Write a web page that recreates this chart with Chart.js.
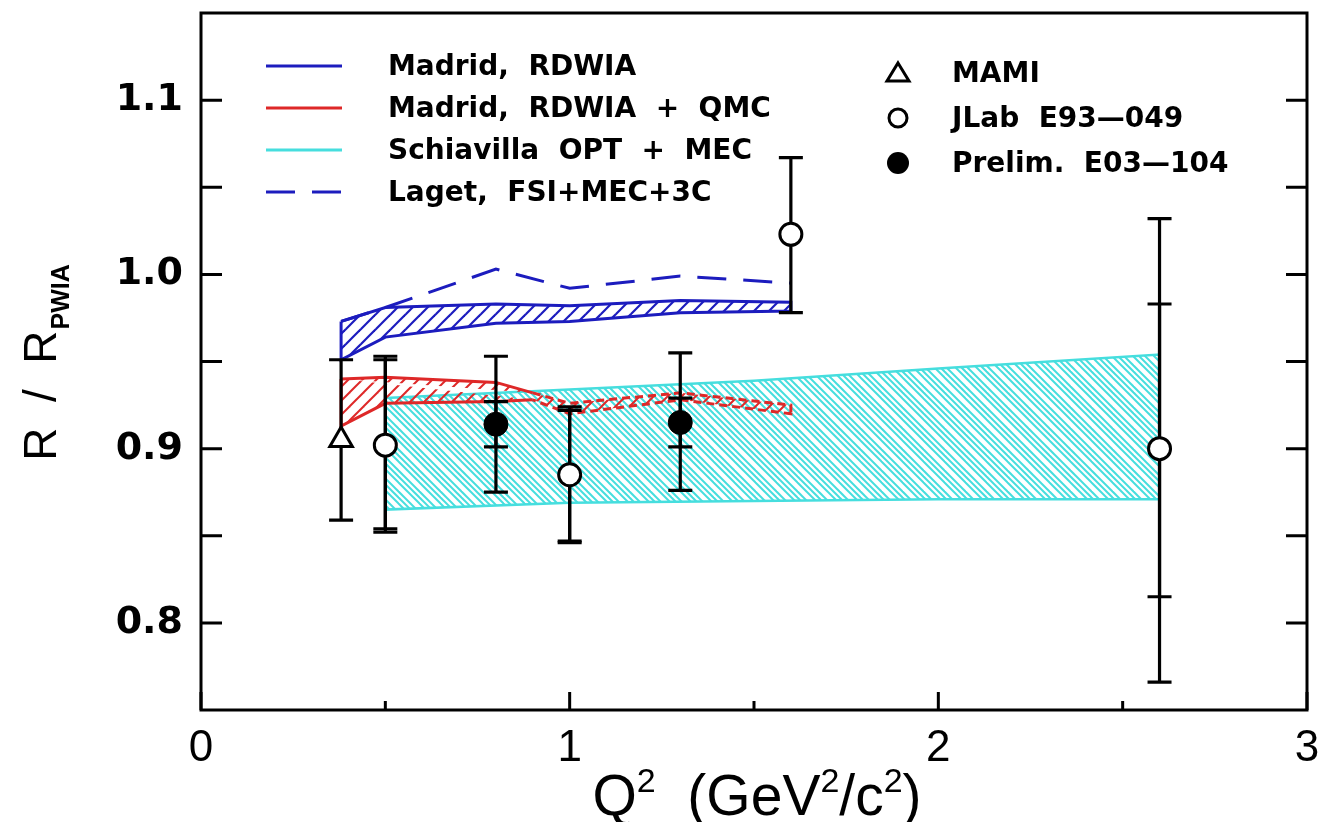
<!DOCTYPE html>
<html>
<head>
<meta charset="utf-8">
<script src="https://cdn.jsdelivr.net/npm/chart.js@4"></script>
<style>
  html, body { margin: 0; padding: 0; background: #fff; }
  #wrap { width: 1318px; height: 822px; position: relative; }
</style>
</head>
<body>
<div id="wrap"><canvas id="ratioChart"></canvas></div>
<script>
// axis
const xRange = [0, 3];
const yRange = [0.75, 1.15];
const xTicks = [0, 1, 2, 3];
const xMinorTicks = [0.5, 1.5, 2.5];
const yTicks = [0.8, 0.9, 1.0, 1.1];
const yMinorTicks = [0.85, 0.95, 1.05];

// Madrid, RDWIA (band)
const rdwiaX = [0.38, 0.5, 0.8, 1.0, 1.3, 1.6];
const rdwiaHi = [0.973, 0.981, 0.983, 0.982, 0.985, 0.984];
const rdwiaLo = [0.951, 0.964, 0.972, 0.973, 0.978, 0.979];

// Madrid, RDWIA + QMC (band)
const qmcX = [0.38, 0.5, 0.8, 0.9, 1.0, 1.3, 1.6];
const qmcHi = [0.940, 0.941, 0.938, 0.932, 0.926, 0.932, 0.925];
const qmcLo = [0.913, 0.926, 0.927, 0.928, 0.920, 0.928, 0.920];

// Schiavilla OPT + MEC (band)
const schX = [0.5, 1.0, 1.5, 2.0, 2.6];
const schHi = [0.929, 0.934, 0.939, 0.946, 0.954];
const schLo = [0.865, 0.869, 0.870, 0.871, 0.871];

// Laget, FSI+MEC+3C
const lagetX = [0.38, 0.5, 0.8, 1.0, 1.3, 1.6];
const lagetY = [0.973, 0.981, 1.003, 0.992, 0.999, 0.995];

// MAMI
const mamiX = [0.38];
const mamiY = [0.905];
const mamiLo = [0.859];
const mamiHi = [0.951];

// JLab E93-049 (outer and inner error bars)
const jlabX = [0.5, 1.0, 1.6, 2.6];
const jlabY = [0.902, 0.885, 1.023, 0.900];
const jlabLo = [0.852, 0.846, 0.978, 0.766];
const jlabHi = [0.953, 0.924, 1.067, 1.032];
const jlabInLo = [0.854, 0.847, null, 0.815];
const jlabInHi = [0.951, 0.922, null, 0.983];

// Prelim. E03-104
const preX = [0.8, 1.3];
const preY = [0.914, 0.915];
const preLo = [0.875, 0.876];
const preHi = [0.953, 0.955];
const preInLo = [0.901, 0.901];
const preInHi = [0.927, 0.929];

const BLUE = 'rgb(28,28,190)';
const RED = 'rgb(222,40,40)';
const CYAN = 'rgb(70,222,222)';

// hatch pattern; dir 1 = '/', -1 = '\'
function hatch(color, size, offsets, width, dir) {
  const c = document.createElement('canvas');
  c.width = size; c.height = size;
  const g = c.getContext('2d');
  g.strokeStyle = color;
  g.lineWidth = width;
  offsets.forEach(o => {
    for (let k = -2; k <= 2; k++) {
      const cc = o + k * size;
      g.beginPath();
      if (dir > 0) {
        g.moveTo(cc - 2 * size, 2 * size);
        g.lineTo(cc + 2 * size, -2 * size);
      } else {
        g.moveTo(cc - 2 * size, -2 * size);
        g.lineTo(cc + 2 * size, 2 * size);
      }
      g.stroke();
    }
  });
  return g.createPattern(c, 'repeat');
}

function band(xs, hi, lo) {
  const pts = xs.map((x, i) => ({ x: x, y: hi[i] }));
  for (let i = xs.length - 1; i >= 0; i--) pts.push({ x: xs[i], y: lo[i] });
  pts.push({ x: xs[0], y: hi[0] });
  return pts;
}

function pts(xs, ys) {
  return xs.map((x, i) => ({ x: x, y: ys[i] }));
}

const errorSets = [
  { x: mamiX, lo: mamiLo, hi: mamiHi },
  { x: jlabX, lo: jlabLo, hi: jlabHi },
  { x: jlabX, lo: jlabInLo, hi: jlabInHi },
  { x: preX, lo: preLo, hi: preHi },
  { x: preX, lo: preInLo, hi: preInHi }
];

let barsDone = false;
const errorBars = {
  id: 'errorBars',
  beforeDraw() { barsDone = false; },
  beforeDatasetDraw(chart, args) {
    if (barsDone || !args.meta._dataset.isMarker) return;
    barsDone = true;
    const ctx = chart.ctx;
    const xs = chart.scales.x, ys = chart.scales.y;
    ctx.save();
    ctx.strokeStyle = '#000';
    ctx.lineWidth = 3.2;
    errorSets.forEach(s => {
      s.x.forEach((x, i) => {
        if (s.lo[i] == null) return;
        const px = xs.getPixelForValue(x);
        const p1 = ys.getPixelForValue(s.lo[i]);
        const p2 = ys.getPixelForValue(s.hi[i]);
        ctx.beginPath();
        ctx.moveTo(px, p1); ctx.lineTo(px, p2);
        ctx.moveTo(px - 12, p1); ctx.lineTo(px + 12, p1);
        ctx.moveTo(px - 12, p2); ctx.lineTo(px + 12, p2);
        ctx.stroke();
      });
    });
    ctx.restore();
  }
};

// text with raised superscripts: parts = [[text, isSup], ...]
function supText(ctx, parts, cx, y, size, supSize) {
  const f = s => s + 'px "Liberation Sans"';
  let total = 0;
  parts.forEach(p => { ctx.font = f(p[1] ? supSize : size); total += ctx.measureText(p[0]).width; });
  let x = cx - total / 2;
  ctx.textAlign = 'left';
  parts.forEach(p => {
    ctx.font = f(p[1] ? supSize : size);
    ctx.fillText(p[0], x, p[1] ? y - size * 0.4 : y);
    x += ctx.measureText(p[0]).width;
  });
}

const frame = {
  id: 'frame',
  afterDraw(chart) {
    const ctx = chart.ctx;
    const a = chart.chartArea;
    const xs = chart.scales.x, ys = chart.scales.y;
    ctx.save();
    ctx.strokeStyle = '#000';
    ctx.lineWidth = 3;
    ctx.strokeRect(a.left, a.top, a.right - a.left, a.bottom - a.top);
    ctx.beginPath();
    yTicks.concat(yMinorTicks).forEach(v => {
      const py = ys.getPixelForValue(v);
      ctx.moveTo(a.left, py); ctx.lineTo(a.left + 21, py);
      ctx.moveTo(a.right, py); ctx.lineTo(a.right - 21, py);
    });
    xTicks.forEach(v => {
      const px = xs.getPixelForValue(v);
      ctx.moveTo(px, a.bottom); ctx.lineTo(px, a.bottom - 18);
    });
    xMinorTicks.forEach(v => {
      const px = xs.getPixelForValue(v);
      ctx.moveTo(px, a.bottom); ctx.lineTo(px, a.bottom - 9);
    });
    ctx.stroke();

    // axis titles
    ctx.fillStyle = '#000';
    ctx.textBaseline = 'alphabetic';
    supText(ctx, [['Q', 0], ['2', 1], ['  (GeV', 0], ['2', 1], ['/c', 0], ['2', 1], [')', 0]],
      757, 815, 57, 34);

    ctx.translate(56, 363);
    ctx.rotate(-Math.PI / 2);
    ctx.textAlign = 'left';
    ctx.font = '46px "Liberation Sans"';
    const main = 'R  /  R';
    const w1 = ctx.measureText(main).width;
    ctx.font = 'bold 25px "Liberation Sans"';
    const w2 = ctx.measureText('PWIA').width;
    const x0 = -(w1 + w2) / 2;
    ctx.font = '46px "Liberation Sans"';
    ctx.fillText(main, x0, 0);
    ctx.font = 'bold 25px "Liberation Sans"';
    ctx.fillText('PWIA', x0 + w1 + 1, 13);
    ctx.restore();

    // legends
    ctx.save();
    ctx.font = 'bold 28px "DejaVu Sans"';
    ctx.textBaseline = 'middle';
    ctx.textAlign = 'left';
    ctx.fillStyle = '#000';
    const left = [
      ['Madrid,  RDWIA', BLUE, []],
      ['Madrid,  RDWIA  +  QMC', RED, []],
      ['Schiavilla  OPT  +  MEC', CYAN, []],
      ['Laget,  FSI+MEC+3C', BLUE, [29, 17]]
    ];
    left.forEach((r, i) => {
      const y = 66 + i * 42;
      ctx.strokeStyle = r[1];
      ctx.lineWidth = 3;
      ctx.setLineDash(r[2]);
      ctx.beginPath();
      ctx.moveTo(266, y); ctx.lineTo(342, y);
      ctx.stroke();
      ctx.setLineDash([]);
      ctx.fillText(r[0], 388, y + 2);
    });
    const right = ['MAMI', 'JLab  E93\u2014049', 'Prelim.  E03\u2014104'];
    right.forEach((t, i) => {
      const y = 73 + i * 45;
      ctx.fillText(t, 952, y + 2);
    });
    ctx.lineWidth = 3;
    ctx.strokeStyle = '#000';
    // triangle
    ctx.beginPath();
    ctx.moveTo(898, 63); ctx.lineTo(909, 81); ctx.lineTo(887, 81); ctx.closePath();
    ctx.stroke();
    ctx.beginPath();
    ctx.arc(898, 118, 9, 0, Math.PI * 2);
    ctx.stroke();
    ctx.beginPath();
    ctx.arc(898, 163, 11, 0, Math.PI * 2);
    ctx.fill();
    ctx.restore();
  }
};

const ctx = document.getElementById('ratioChart');

new Chart(ctx, {
  type: 'line',
  data: {
    datasets: [
      {
        label: 'MAMI', isMarker: true, type: 'scatter', order: 0,
        data: pts(mamiX, mamiY),
        pointStyle: 'triangle', pointRadius: 13,
        pointBackgroundColor: '#fff', pointBorderColor: '#000', pointBorderWidth: 3
      },
      {
        label: 'JLab E93-049', isMarker: true, type: 'scatter', order: 0,
        data: pts(jlabX, jlabY),
        pointStyle: 'circle', pointRadius: 11,
        pointBackgroundColor: '#fff', pointBorderColor: '#000', pointBorderWidth: 3
      },
      {
        label: 'Prelim. E03-104', isMarker: true, type: 'scatter', order: 0,
        data: pts(preX, preY),
        pointStyle: 'circle', pointRadius: 12,
        pointBackgroundColor: '#000', pointBorderColor: '#000', pointBorderWidth: 1
      },
      {
        label: 'Laget, FSI+MEC+3C', order: 1,
        data: pts(lagetX, lagetY),
        borderColor: BLUE, borderWidth: 3, borderDash: [29, 17],
        pointRadius: 0, fill: false, tension: 0
      },
      {
        label: 'Madrid, RDWIA', order: 2,
        data: band(rdwiaX, rdwiaHi, rdwiaLo),
        borderColor: BLUE, borderWidth: 3,
        backgroundColor: hatch(BLUE, 15, [0], 2.2, 1),
        pointRadius: 0, fill: 'shape', tension: 0
      },
      {
        label: 'Madrid, RDWIA + QMC', order: 3,
        data: band(qmcX, qmcHi, qmcLo),
        borderColor: RED, borderWidth: 3,
        segment: {
          borderDash: c => (c.p0.parsed.x > 0.85 && c.p1.parsed.x > 0.85) ? [8, 5] : undefined
        },
        backgroundColor: hatch(RED, 14, [0], 2, 1),
        pointRadius: 0, fill: 'shape', tension: 0
      },
      {
        label: 'Schiavilla OPT + MEC', order: 4,
        data: band(schX, schHi, schLo),
        borderColor: CYAN, borderWidth: 2.5,
        backgroundColor: hatch(CYAN, 21, [0, 6, 12], 2, -1),
        pointRadius: 0, fill: 'shape', tension: 0
      }
    ]
  },
  options: {
    responsive: true,
    maintainAspectRatio: false,
    animation: false,
    layout: { autoPadding: false, padding: { top: 13, right: 11, left: 0, bottom: 0 } },
    scales: {
      x: {
        type: 'linear',
        min: xRange[0], max: xRange[1],
        afterFit: s => { s.height = 112; s.paddingLeft = 0; s.paddingRight = 0; },
        afterBuildTicks: s => { s.ticks = xTicks.map(v => ({ value: v })); },
        grid: { display: false, drawTicks: false },
        border: { display: false },
        ticks: {
          padding: 12,
          color: '#000',
          font: { family: 'Liberation Sans', size: 44 },
          callback: v => String(v)
        }
      },
      y: {
        type: 'linear',
        min: yRange[0], max: yRange[1],
        afterFit: s => { s.width = 201; s.paddingTop = 0; s.paddingBottom = 0; },
        afterBuildTicks: s => { s.ticks = yTicks.map(v => ({ value: v })); },
        grid: { display: false, drawTicks: false },
        border: { display: false },
        ticks: {
          padding: 18,
          color: '#000',
          font: { family: 'DejaVu Sans', size: 38, weight: 'bold' },
          callback: v => Number(v).toFixed(1)
        }
      }
    },
    plugins: {
      legend: { display: false },
      tooltip: { enabled: false }
    }
  },
  plugins: [errorBars, frame]
});
</script>
</body>
</html>
